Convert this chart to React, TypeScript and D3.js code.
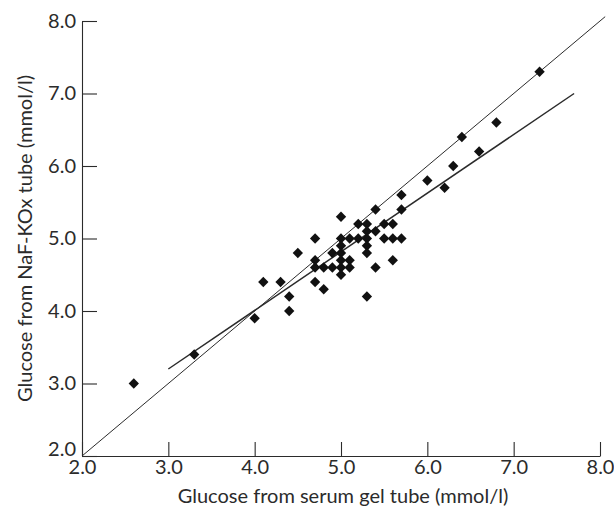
import React, { useEffect, useRef } from 'react';
import * as d3 from 'd3';

// serum gel tube (x) vs NaF-KOx tube (y), mmol/l
const serumGel = [
  2.6, 3.3, 4.0, 4.1, 4.3, 4.4, 4.4, 4.5,
  4.7, 4.7, 4.7, 4.7, 4.8, 4.8, 4.9, 4.9,
  5.0, 5.0, 5.0, 5.0, 5.0, 5.0, 5.0,
  5.1, 5.1, 5.1, 5.2, 5.2,
  5.3, 5.3, 5.3, 5.3, 5.3, 5.3,
  5.4, 5.4, 5.4, 5.5, 5.5, 5.6, 5.6, 5.6,
  5.7, 5.7, 5.7, 6.0, 6.2, 6.3, 6.4, 6.6, 6.8, 7.3,
];
const nafKox = [
  3.0, 3.4, 3.9, 4.4, 4.4, 4.2, 4.0, 4.8,
  5.0, 4.7, 4.6, 4.4, 4.6, 4.3, 4.8, 4.6,
  5.3, 5.0, 4.9, 4.8, 4.7, 4.6, 4.5,
  5.0, 4.7, 4.6, 5.2, 5.0,
  5.2, 5.1, 5.0, 4.9, 4.8, 4.2,
  5.4, 5.1, 4.6, 5.2, 5.0, 5.2, 5.0, 4.7,
  5.6, 5.4, 5.0, 5.8, 5.7, 6.0, 6.4, 6.2, 6.6, 7.3,
];

// line of identity and regression line end points
const identityLine = [[2.0, 2.0], [8.06, 8.06]];
const regressionLine = [[3.0, 3.2], [7.7, 7.0]];

const tickValues = [2, 3, 4, 5, 6, 7, 8];

const xTitle = 'Glucose from serum gel tube (mmol/l)';
const yTitle = 'Glucose from NaF-KOx tube (mmol/l)';

const App = () => {
  const svgRef = useRef<SVGSVGElement>(null);

  useEffect(() => {
    const width = 614;
    const height = 509;
    const font = 'Lato, "Open Sans", sans-serif';
    const ink = '#2b2b2b';

    const svg = d3.select(svgRef.current);
    svg.selectAll('*').remove();
    svg.attr('width', width).attr('height', height);

    const x = d3.scaleLinear().domain([2, 8]).range([82, 600]);
    const y = d3.scaleLinear().domain([2, 8]).range([456, 21]);

    // Axes (ticks point inward)
    const xAxis = svg.append('g')
      .attr('transform', `translate(0,${y(2)})`)
      .call(d3.axisBottom(x).tickValues(tickValues).tickFormat(d3.format('.1f'))
        .tickSizeInner(-14).tickSizeOuter(0).tickPadding(4));
    const yAxis = svg.append('g')
      .attr('transform', `translate(${x(2)},0)`)
      .call(d3.axisLeft(y).tickValues(tickValues).tickFormat(d3.format('.1f'))
        .tickSizeInner(-15).tickSizeOuter(0).tickPadding(6));

    [xAxis, yAxis].forEach(g => {
      g.selectAll('.domain').attr('stroke', ink).attr('stroke-width', 1.1);
      g.selectAll('.tick line').attr('stroke', ink).attr('stroke-width', 1.1);
      g.selectAll('.tick text')
        .attr('fill', ink)
        .style('font-family', font)
        .style('font-size', '20px');
    });
    // bottom-left corner label sits higher so it clears the x label
    yAxis.selectAll('.tick text').filter((d: any) => d === 2).attr('dy', '-0.05em');

    // Lines
    const line = d3.line<number[]>().x(d => x(d[0])).y(d => y(d[1]));
    svg.append('path')
      .attr('d', line(identityLine))
      .attr('fill', 'none')
      .attr('stroke', ink)
      .attr('stroke-width', 1);
    svg.append('path')
      .attr('d', line(regressionLine))
      .attr('fill', 'none')
      .attr('stroke', ink)
      .attr('stroke-width', 1.5);

    // Points
    const diamond = d3.symbol().type(d3.symbolDiamond2).size(68);
    svg.append('g')
      .selectAll('path')
      .data(serumGel.map((v, i) => [v, nafKox[i]]))
      .enter()
      .append('path')
      .attr('d', diamond)
      .attr('transform', d => `translate(${x(d[0])},${y(d[1])})`)
      .attr('fill', '#111');

    // Titles
    svg.append('text')
      .attr('x', (x(2) + x(8)) / 2 + 2)
      .attr('y', 503)
      .attr('text-anchor', 'middle')
      .attr('fill', ink)
      .style('font-family', font)
      .style('font-size', '20px')
      .text(xTitle);

    svg.append('text')
      .attr('transform', `translate(32,${(y(2) + y(8)) / 2}) rotate(-90)`)
      .attr('text-anchor', 'middle')
      .attr('fill', ink)
      .style('font-family', font)
      .style('font-size', '20px')
      .text(yTitle);
  }, []);

  return (
    <div style={{ position: 'absolute', left: 0, top: 0, width: 614, height: 509, background: '#fff' }}>
      <svg ref={svgRef} style={{ display: 'block' }}></svg>
    </div>
  );
};

export default App;
